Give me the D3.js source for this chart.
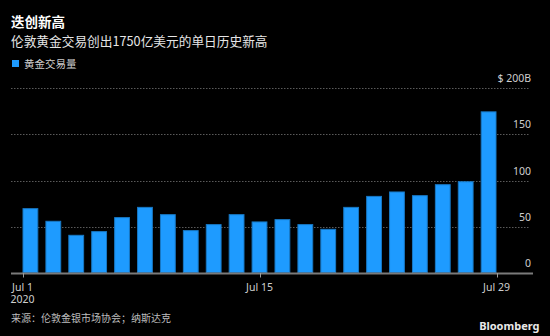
<!DOCTYPE html>
<html>
<head>
<meta charset="utf-8">
<script src="https://cdn.jsdelivr.net/npm/d3@7"></script>
<style>
  html, body { margin: 0; padding: 0; background: #000; }
  svg { display: block; }
</style>
</head>
<body>
<svg id="chart" width="550" height="336"></svg>
<script>
// London gold trading volume, July 2020 (billions of US dollars)
const tradingDays = ["2020-07-01","2020-07-02","2020-07-03","2020-07-06","2020-07-07","2020-07-08","2020-07-09",
  "2020-07-10","2020-07-13","2020-07-14","2020-07-15","2020-07-16","2020-07-17","2020-07-20",
  "2020-07-21","2020-07-22","2020-07-23","2020-07-24","2020-07-27","2020-07-28","2020-07-29"];
const volumes = [70.0, 56.3, 41.1, 45.1, 60.3, 71.4, 63.5, 46.2, 52.7, 63.5, 55.6,
  58.1, 52.7, 47.6, 71.4, 83.3, 88.1, 84.1, 96.0, 99.2, 175];
const yTicks = [0, 50, 100, 150, 200];
const xTickDates = ["2020-07-01", "2020-07-15", "2020-07-29"];
const xTickLabels = [["Jul 1", "2020"], ["Jul 15"], ["Jul 29"]];

const title = "迭创新高";
const subtitle = "伦敦黄金交易创出1750亿美元的单日历史新高";
const legendLabel = "黄金交易量";
const source = "来源：伦敦金银市场协会；纳斯达克";

const CJK = "'Noto Sans CJK SC', 'Noto Sans', sans-serif";
const LAT = "'Noto Sans', 'Liberation Sans', sans-serif";
const barColor = "#1e9bff";

const svg = d3.select("#chart");
svg.append("rect").attr("width", 550).attr("height", 336).attr("fill", "#000");

const plotLeft = 11, plotRight = 530;
const x0 = 22.5, x1 = 496.5;
const parse = d3.timeParse("%Y-%m-%d");

const x = d3.scaleBand().domain(tradingDays).range([x0, x1]).paddingInner(0.31).paddingOuter(0);
const xt = d3.scaleTime().domain([parse(xTickDates[0]), parse(xTickDates[xTickDates.length - 1])]).range([x0, x1]);
const y = d3.scaleLinear().domain([0, 200]).range([272.7, 88.3]);

// Header
svg.append("text").attr("x", 11).attr("y", 26.5)
  .attr("font-family", CJK).attr("font-weight", 700).attr("font-size", 13.5)
  .attr("fill", "#fff").text(title);
svg.append("text").attr("x", 11).attr("y", 45.5)
  .attr("font-family", CJK).attr("font-size", 12.7)
  .attr("fill", "#e6e6e6").text(subtitle);

// Legend
svg.append("rect").attr("x", 12).attr("y", 60).attr("width", 7).attr("height", 7).attr("fill", barColor);
svg.append("text").attr("x", 24).attr("y", 67.5)
  .attr("font-family", CJK).attr("font-size", 10.5)
  .attr("fill", "#cfcfcf").text(legendLabel);

// Gridlines (dotted) and right-side value labels
const grid = svg.append("g");
grid.selectAll("line").data(yTicks.filter(d => d > 0)).join("line")
  .attr("x1", plotLeft).attr("x2", plotRight)
  .attr("y1", d => Math.round(y(d)) + 0.5).attr("y2", d => Math.round(y(d)) + 0.5)
  .attr("stroke", "#5a5a5a").attr("stroke-width", 1).attr("stroke-dasharray", "1.5,1.5");

svg.append("g").selectAll("text").data(yTicks).join("text")
  .attr("x", 531).attr("y", d => y(d) - 6)
  .attr("text-anchor", "end")
  .attr("font-family", LAT).attr("font-size", 10.5)
  .attr("fill", "#cfcfcf")
  .text(d => d === 200 ? "$ 200B" : d);

// Bars
svg.append("g").selectAll("rect").data(volumes).join("rect")
  .attr("x", (d, i) => x(tradingDays[i]) + 0.5)
  .attr("width", x.bandwidth() - 1)
  .attr("y", d => y(d) + 0.5)
  .attr("height", d => y(0) - y(d) - 0.5)
  .attr("fill", barColor)
  .attr("stroke", "#1878c4").attr("stroke-width", 1);

// Baseline axis
svg.append("line").attr("x1", plotLeft).attr("x2", plotRight + 3)
  .attr("y1", 273.5).attr("y2", 273.5)
  .attr("stroke", "#7a7a7a").attr("stroke-width", 2);

const xAxis = svg.append("g");
xTickDates.forEach((ds, i) => {
  const px = Math.round(xt(parse(ds))) + 0.5;
  xAxis.append("line").attr("x1", px).attr("x2", px).attr("y1", 273).attr("y2", 277.5)
    .attr("stroke", "#9a9a9a").attr("stroke-width", 1);
  xTickLabels[i].forEach((t, j) => {
    xAxis.append("text").attr("x", xt(parse(ds))).attr("y", 290.5 + j * 12.5)
      .attr("text-anchor", "middle")
      .attr("font-family", LAT).attr("font-size", 10.5)
      .attr("fill", "#cfcfcf").text(t);
  });
});

// Footer
svg.append("text").attr("x", 11).attr("y", 322)
  .attr("font-family", CJK).attr("font-size", 10)
  .attr("fill", "#bdbdbd").text(source);
svg.append("text").attr("x", 539.5).attr("y", 330)
  .attr("text-anchor", "end")
  .attr("font-family", LAT).attr("font-weight", 700).attr("font-size", 11)
  .attr("fill", "#e8e8e8").text("Bloomberg");
</script>
</body>
</html>
